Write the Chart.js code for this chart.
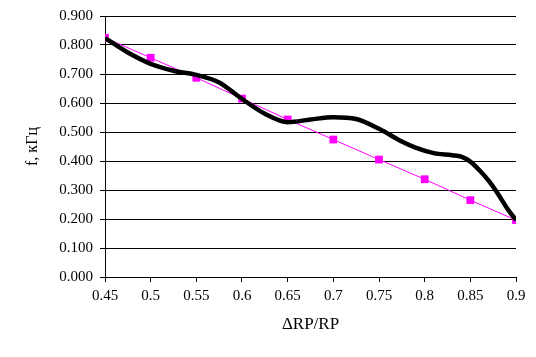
<!DOCTYPE html>
<html><head><meta charset="utf-8">
<script src="https://cdn.jsdelivr.net/npm/chart.js@4/dist/chart.umd.min.js"></script>
<style>html,body{margin:0;padding:0;background:#fff;}#wrap{width:536px;height:357px;}</style>
</head><body><div id="wrap"><canvas id="c"></canvas></div>
<script>
const pinkX = [0.45,0.5,0.55,0.6,0.65,0.7,0.75,0.8,0.85,0.9];
const pinkY = [0.825,0.756,0.687,0.615,0.543,0.474,0.405,0.337,0.265,0.196];
const blackX = [0.45,0.475,0.5,0.525,0.55,0.575,0.6,0.625,0.65,0.675,0.7,0.725,0.75,0.775,0.79,0.81,0.83,0.84,0.85,0.86,0.87,0.88,0.89,0.9];
const blackY = [0.824,0.774,0.735,0.711,0.697,0.671,0.614,0.563,0.534,0.543,0.551,0.545,0.511,0.467,0.446,0.427,0.420,0.415,0.398,0.368,0.332,0.288,0.238,0.196];
const xTickLabels = ["0.45","0.5","0.55","0.6","0.65","0.7","0.75","0.8","0.85","0.9"];
const yTickLabels = ["0.000","0.100","0.200","0.300","0.400","0.500","0.600","0.700","0.800","0.900"];

const F = "'Liberation Serif', serif";
new Chart(document.getElementById('c'), {
  type: 'line',
  data: {
    datasets: [
      {data: blackX.map((x,i)=>({x, y: blackY[i]})), borderColor:'#000', borderWidth:4.5, pointRadius:0, tension:0.4, cubicInterpolationMode:'monotone', order:1},
      {data: pinkX.map((x,i)=>({x, y: pinkY[i]})), borderColor:'#ff00ff', backgroundColor:'#ff00ff', borderWidth:1, pointStyle:'rect', pointRadius:5.5, pointBorderWidth:0, tension:0, order:2}
    ]
  },
  options: {
    responsive:true, maintainAspectRatio:false, animation:false,
    layout:{padding:{left:0, right:20, top:15, bottom:0}},
    plugins:{legend:{display:false}, tooltip:{enabled:false}},
    scales:{
      x:{type:'linear', min:0.45, max:0.9,
        afterBuildTicks:(ax)=>{ax.ticks = xTickLabels.map(v=>({value:parseFloat(v)}));},
        afterFit:(ax)=>{ax.height=80;},
        ticks:{callback:(v,i)=>xTickLabels[i], color:'#000', font:{family:F, size:15}, padding:5, maxRotation:0, autoSkip:false},
        grid:{drawOnChartArea:false, color:'#000', tickLength:5, lineWidth:1},
        border:{color:'#000', width:1},
        title:{display:true, text:'ΔRP/RP', color:'#000', font:{family:F, size:17}, padding:{top:4, bottom:22}}
      },
      y:{type:'linear', min:0, max:0.9,
        afterBuildTicks:(ax)=>{ax.ticks = yTickLabels.map(v=>({value:parseFloat(v)}));},
        afterFit:(ax)=>{ax.width=105;},
        ticks:{callback:(v,i)=>yTickLabels[i], color:'#000', font:{family:F, size:15}, padding:7},
        grid:{color:'#000', tickLength:5, lineWidth:1},
        border:{color:'#000', width:1},
        title:{display:true, text:'f, кГц', color:'#000', font:{family:F, size:16}, padding:{top:23, bottom:4}}
      }
    }
  }
});
</script></body></html>
